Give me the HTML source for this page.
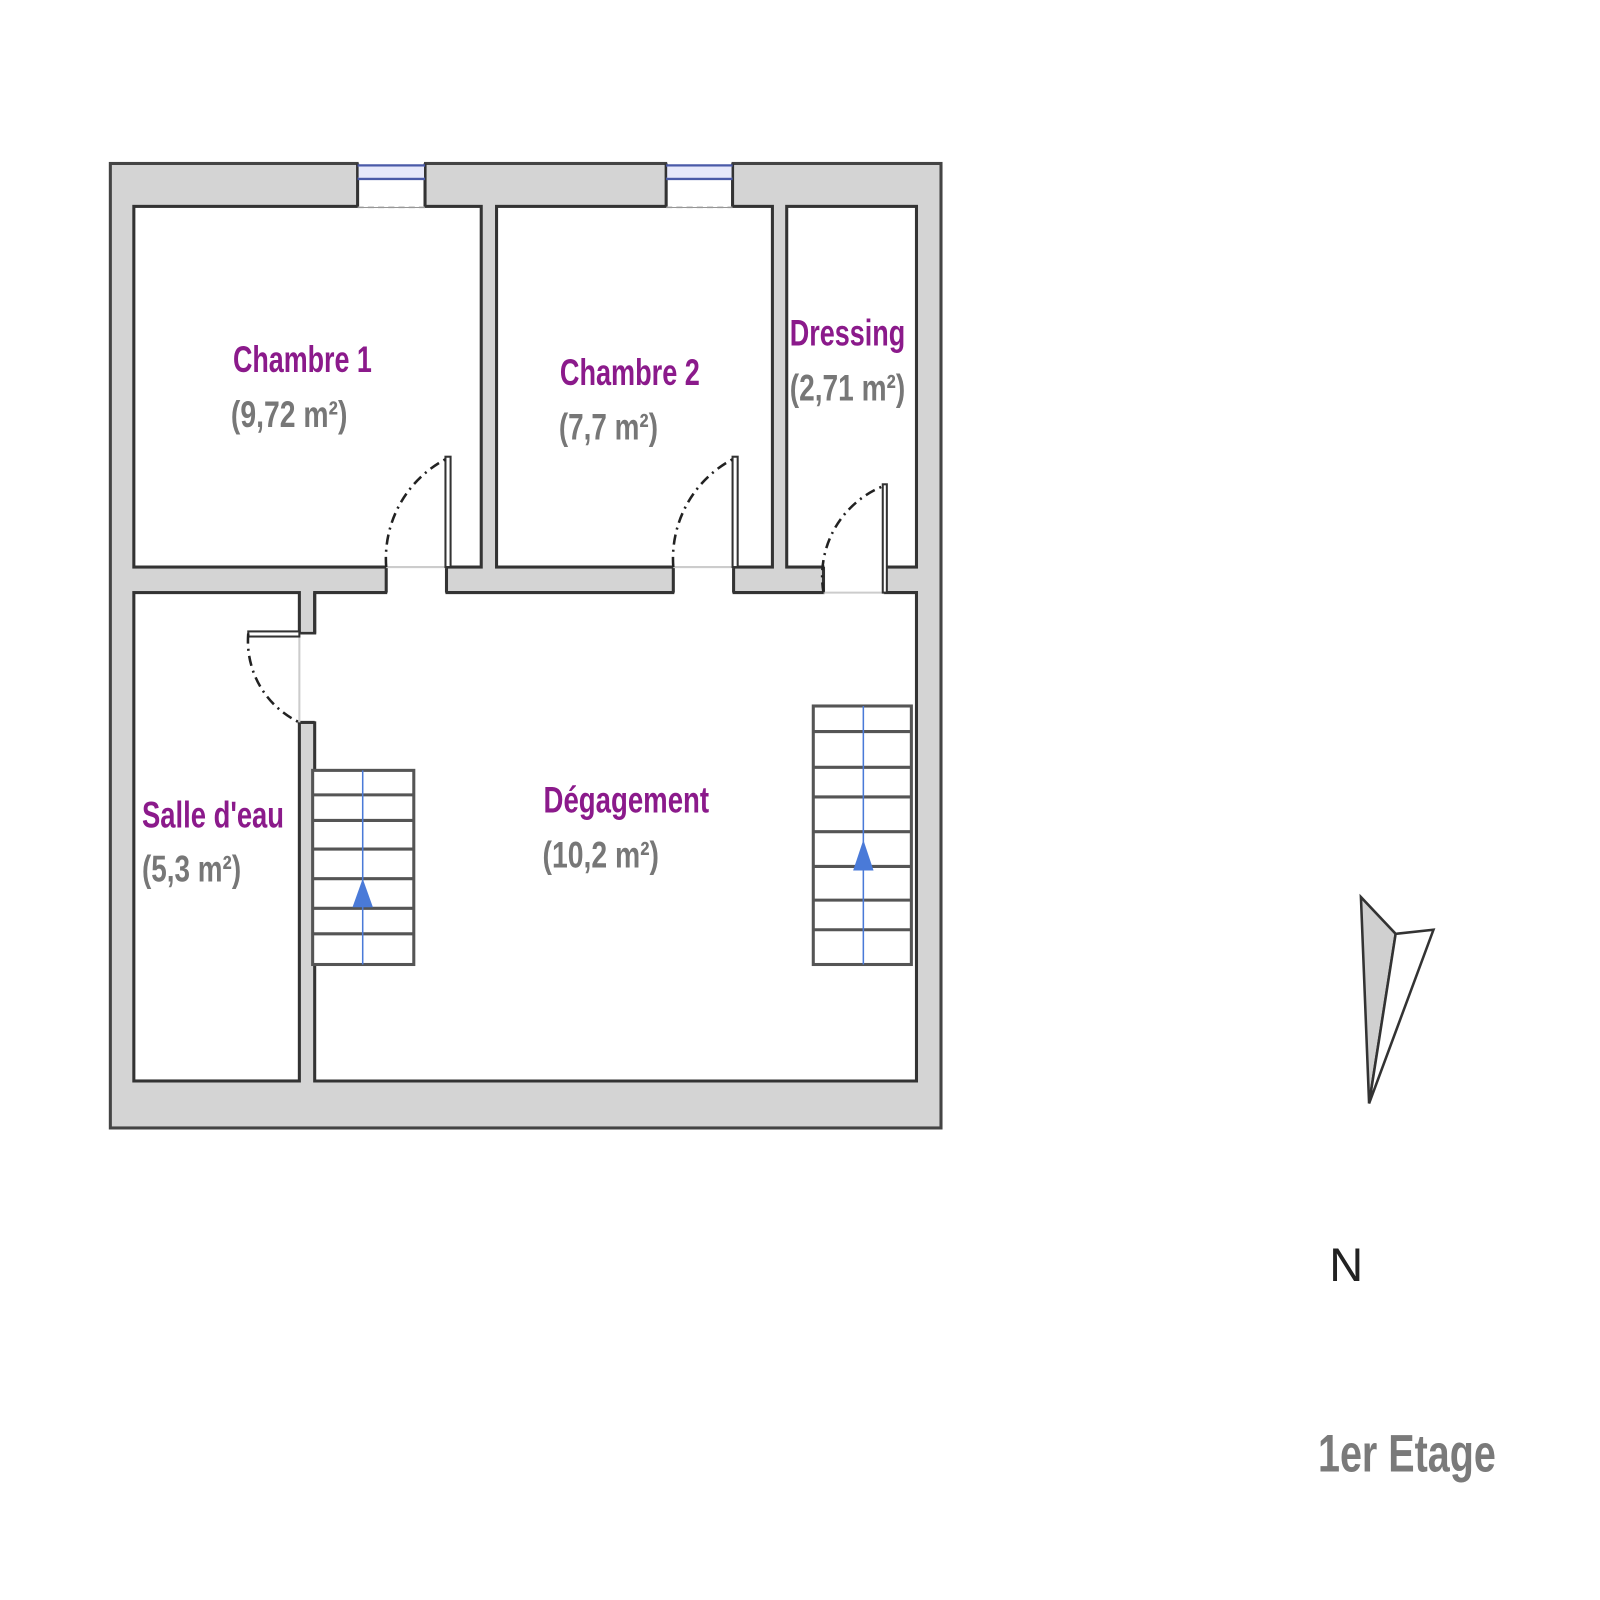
<!DOCTYPE html>
<html><head><meta charset="utf-8"><style>html,body{margin:0;padding:0;background:#fff}svg{display:block}</style></head>
<body>
<svg width="1600" height="1600" viewBox="0 0 1566 1566" xmlns="http://www.w3.org/2000/svg" font-family="'Liberation Sans Narrow','Liberation Sans',sans-serif">
<rect x="108" y="160" width="813" height="944" fill="#d4d4d4" stroke="#444" stroke-width="3"/>
<g fill="#fff" stroke="#333" stroke-width="3">
<rect x="131" y="202" width="340" height="353"/>
<rect x="486" y="202" width="270" height="353"/>
<rect x="770" y="202" width="127" height="353"/>
<rect x="131" y="580" width="162" height="478"/>
<polygon points="308,580 897,580 897,1058 308,1058 308,707 293,707 293,620 308,620"/>
</g>
<g fill="#fff" stroke="none">
<rect x="379" y="553" width="57" height="29"/>
<rect x="660" y="553" width="57" height="29"/>
<rect x="807" y="553" width="58" height="29"/>
<rect x="291" y="621" width="19" height="85"/>
<rect x="351" y="158" width="64" height="45"/>
<rect x="653" y="158" width="63" height="45"/>
</g>
<g stroke="#333" stroke-width="3" fill="none">
<path d="M378 555V580M437 555V580M659 555V580M718 555V580M806 555V580M866 555V580"/>
<path d="M350 160V202M416 160V202M652 160V202M717 160V202"/>
<path d="M293 620H243M308 580V620M293 707H308"/>
</g>
<g stroke="#ccc" stroke-width="2"><path d="M378 555H437M659 555H718M806 580H866M293 620V707"/></g>
<g stroke="#4a5aa8" stroke-width="2.5"><path d="M350 162H416M350 175H416M652 162H717M652 175H717"/></g>
<rect x="351" y="163" width="64" height="11" fill="#e6e8fa"/>
<rect x="653" y="163" width="63" height="11" fill="#e6e8fa"/>
<g stroke="#999" stroke-width="1.5" stroke-dasharray="6,4"><path d="M350 203H416M652 203H717"/></g>
<g fill="#fff" stroke="#333" stroke-width="2">
<rect x="436" y="447" width="5" height="108"/>
<rect x="717" y="447" width="5" height="108"/>
<rect x="864" y="474" width="4" height="106"/>
<rect x="243" y="618" width="50" height="5"/>
</g>
<g fill="none" stroke="#222" stroke-width="2.5" stroke-dasharray="10,5,2,5">
<path d="M378 555 A110 110 0 0 1 437 449"/>
<path d="M659 555 A110 110 0 0 1 718 449"/>
<path d="M806 580 A95 95 0 0 1 864 476"/>
<path d="M243 620 A88 88 0 0 0 293 707"/>
</g>
<g stroke="#555" stroke-width="3" fill="#fff">
<rect x="306" y="754" width="99" height="190"/>
<rect x="796" y="691" width="96" height="253"/>
<path d="M306 778H405M306 803H405M306 831H405M306 860H405M306 889H405M306 914H405"/>
<path d="M796 716H892M796 751H892M796 780H892M796 814H892M796 848H892M796 881H892M796 910H892"/>
</g>
<g stroke="#4a7ad8" stroke-width="1.5"><path d="M355 754V944M845 691V944"/></g>
<g fill="#4a7ad8"><polygon points="355,860 345,888 365,888"/><polygon points="845,822 835,852 855,852"/></g>
<g font-size="36" fill="#8b1a8b" font-weight="bold">
<text x="228" y="364" textLength="136" lengthAdjust="spacingAndGlyphs">Chambre 1</text>
<text x="548" y="377" textLength="137" lengthAdjust="spacingAndGlyphs">Chambre 2</text>
<text x="773" y="338" textLength="113" lengthAdjust="spacingAndGlyphs">Dressing</text>
<text x="139" y="810" textLength="139" lengthAdjust="spacingAndGlyphs">Salle d'eau</text>
<text x="532" y="795" textLength="162" lengthAdjust="spacingAndGlyphs">Dégagement</text>
</g>
<g font-size="36" fill="#777" font-weight="bold">
<text x="226" y="418" textLength="114" lengthAdjust="spacingAndGlyphs">(9,72 m²)</text>
<text x="547" y="430" textLength="97" lengthAdjust="spacingAndGlyphs">(7,7 m²)</text>
<text x="773" y="392" textLength="113" lengthAdjust="spacingAndGlyphs">(2,71 m²)</text>
<text x="139" y="863" textLength="97" lengthAdjust="spacingAndGlyphs">(5,3 m²)</text>
<text x="531" y="849" textLength="114" lengthAdjust="spacingAndGlyphs">(10,2 m²)</text>
</g>
<polygon points="1332,878 1366,914 1340,1080" fill="#d0d0d0" stroke="#333" stroke-width="2.5"/>
<polygon points="1366,914 1403,910 1340,1080" fill="#fff" stroke="#333" stroke-width="2.5"/>
<text x="1301" y="1254" font-size="46" fill="#222" font-family="'Liberation Sans',sans-serif">N</text>
<text x="1290" y="1440" font-size="52" fill="#7a7a7a" textLength="174" lengthAdjust="spacingAndGlyphs" font-weight="bold">1er Etage</text>
</svg>
</body></html>
